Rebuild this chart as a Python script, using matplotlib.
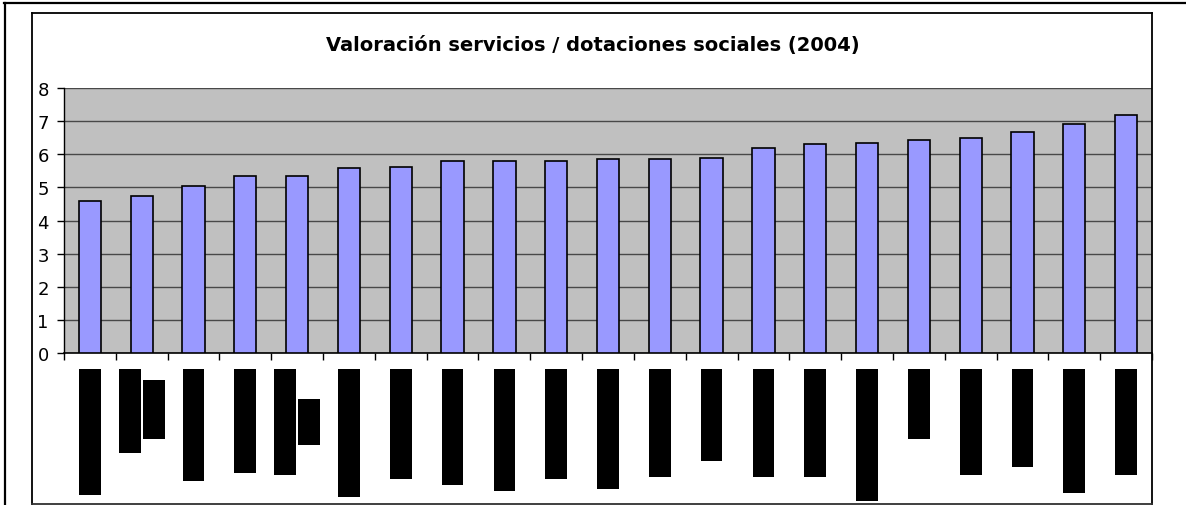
import numpy as np
import matplotlib
matplotlib.use('Agg')
import matplotlib.pyplot as plt
from matplotlib.lines import Line2D

plt.rcParams['font.family'] = ['DejaVu Sans']

# valores de las barras (21 servicios)
valores = [4.60, 4.73, 5.03, 5.33, 5.33, 5.58, 5.62, 5.80, 5.80, 5.80, 5.86,
           5.86, 5.90, 6.20, 6.30, 6.35, 6.42, 6.49, 6.66, 6.90, 7.20]
titulo = 'Valoración servicios / dotaciones sociales (2004)'
yticks = [0, 1, 2, 3, 4, 5, 6, 7, 8]

# etiquetas ocultas (cajas negras), largo en px desde la parte de arriba
etiqueta_largo = [126, 84, 112, 104, 106, 128, 110, 116, 122, 110, 120,
                  108, 92, 108, 108, 132, 70, 106, 98, 124, 106]
# segunda linea de etiqueta: indice, inicio, fin (px)
segunda_idx = [1, 4]
segunda_ini = [11, 30]
segunda_fin = [70, 76]

W, H = 1186, 506
fig = plt.figure(figsize=(W / 100, H / 100), dpi=100)

x = np.arange(len(valores))

ax = fig.add_axes([64 / W, (H - 354) / H, (1152 - 64) / W, (354 - 89) / H])
ax.set_facecolor('#C0C0C0')
ax.bar(x, valores, width=0.43, color='#9999FF', edgecolor='black', linewidth=1.2, zorder=3)
ax.set_xlim(-0.5, len(valores) - 0.5)
ax.set_ylim(0, 8)
ax.set_yticks(yticks)
ax.set_yticklabels([str(v) for v in yticks], fontsize=13)
ax.yaxis.grid(True, color='#484848', linewidth=1.0, zorder=1)
ax.set_xticks(np.arange(len(valores) + 1) - 0.5)
ax.set_xticklabels([])
ax.tick_params(axis='y', length=5, width=1, pad=6)
ax.tick_params(axis='x', length=5, width=1, direction='out')
for s in ['top', 'right']:
    ax.spines[s].set_visible(False)
ax.spines['left'].set_linewidth(1.0)
ax.spines['bottom'].set_linewidth(1.2)

# eje para las etiquetas tapadas
ax2 = fig.add_axes([64 / W, (H - 504) / H, (1152 - 64) / W, 134 / H])
ax2.set_xlim(-0.5, len(valores) - 0.5)
ax2.set_ylim(134, 0)
ax2.axis('off')
xs = []
for i in x:
    if i in segunda_idx:
        xs.append(i - 0.23)
    else:
        xs.append(i)
ax2.bar(xs, etiqueta_largo, bottom=0, width=0.42, color='black', linewidth=0)
ax2.bar([i + 0.23 for i in segunda_idx],
        [f - s for s, f in zip(segunda_ini, segunda_fin)],
        bottom=segunda_ini, width=0.42, color='black', linewidth=0)

fig.text(593 / W, 1 - 46 / H, titulo, ha='center', va='center',
         fontsize=14, fontweight='bold')

# marcos
def linea(x0, y0, x1, y1, lw, color='black'):
    fig.add_artist(Line2D([x0 / W, x1 / W], [1 - y0 / H, 1 - y1 / H],
                          color=color, linewidth=lw, transform=fig.transFigure))

linea(4, 4, W, 4, 1.6)
linea(4.5, 4, 4.5, H, 1.6)
linea(32, 14, 1152, 14, 1.3)
linea(32, 14, 32, 504.5, 1.3)
linea(1152, 14, 1152, 504.5, 1.3)
linea(32, 504.5, 1152, 504.5, 1.3, '#303030')

fig.savefig('out.png', dpi=100)
